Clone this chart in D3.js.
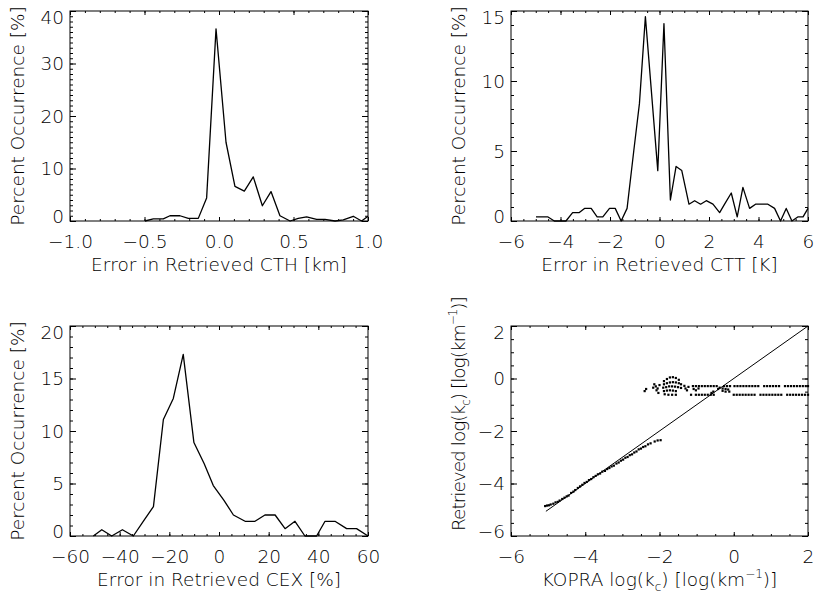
<!DOCTYPE html>
<html>
<head>
<meta charset="utf-8">
<script src="https://cdn.jsdelivr.net/npm/d3@7"></script>
<style>
  body { margin: 0; background: #fff; }
  text { font-family: "DejaVu Sans", sans-serif; font-size: 18.5px; font-weight: 200; fill: #000; }
</style>
</head>
<body>
<script>
// ---- data ----
// CTH error histogram [km] vs percent
const cthErr = [-0.497, -0.441, -0.374, -0.329, -0.262, -0.206, -0.139, -0.083, -0.020, 0.047, 0.107, 0.170, 0.230,
                0.291, 0.349, 0.409, 0.477, 0.532, 0.588, 0.655, 0.711, 0.779, 0.834, 0.901, 0.957, 1.0];
const cthPct = [0, 0.4, 0.4, 1.0, 1.0, 0.5, 0.5, 4.4, 36.6, 15.0, 6.6, 5.7, 8.4,
                2.9, 5.6, 1.0, 0, 0.5, 0.8, 0.3, 0.3, 0, 0.2, 0.9, 0, 0.9];

// CTT error histogram [K]
const cttErr = [-4.99, -4.52, -4.25, -3.78, -3.51, -3.24, -3.03, -2.76, -2.52, -2.29, -2.02, -1.79, -1.55, -1.31,
                -1.04, -0.81, -0.57, -0.07, 0.18, 0.44, 0.67, 0.90, 1.19, 1.42, 1.66, 1.89, 2.16, 2.43, 2.63,
                2.90, 3.14, 3.37, 3.64, 3.88, 4.38, 4.65, 4.89, 5.12, 5.35, 5.60, 5.80, 6.0];
const cttPct = [0.3, 0.3, 0, 0, 0.6, 0.6, 0.9, 0.9, 0.3, 0.3, 0.9, 0.9, 0, 0.9,
                5.0, 8.4, 14.6, 3.6, 14.1, 1.5, 3.9, 3.6, 1.2, 1.45, 1.2, 1.45, 1.2, 0.6, 1.2,
                2.0, 0.3, 2.4, 0.9, 1.2, 1.2, 0.9, 0, 0.9, 0, 0.3, 0.3, 0.9];

// CEX error histogram [%]
const cexErr = [-50.6, -47.2, -43.2, -38.9, -34.5, -30.5, -26.4, -22.4, -18.4, -14.4, -10.1, -6.0, -2.3, 2.0,
                5.8, 10.5, 14.5, 18.5, 22.6, 26.6, 30.6, 34.6, 39.3, 42.7, 46.7, 51.4, 55.4, 60];
const cexPct = [0, 0.6, 0, 0.6, 0, 1.4, 2.8, 11.1, 13.1, 17.3, 8.9, 6.9, 4.8, 3.4,
                2.0, 1.4, 1.4, 2.0, 2.0, 0.7, 1.4, 0, 0, 1.4, 1.4, 0.7, 0.7, 0];

// KOPRA vs retrieved log(kc)
const oneToOne = [-5.06, 2.0];
const diagonalPts = [[-5.08, -4.86], [-5.03, -4.84], [-4.98, -4.83], [-4.93, -4.80], [-4.86, -4.77], [-4.80, -4.72],
  [-4.74, -4.70], [-4.69, -4.65], [-4.62, -4.59], [-4.56, -4.54], [-4.50, -4.49], [-4.45, -4.46], [-4.38, -4.36],
  [-4.32, -4.31], [-4.27, -4.25], [-4.20, -4.17], [-4.14, -4.11], [-4.08, -4.05], [-4.02, -3.98], [-3.96, -3.94],
  [-3.90, -3.87], [-3.84, -3.83], [-3.78, -3.76], [-3.72, -3.71], [-3.66, -3.65], [-3.60, -3.62], [-3.54, -3.55],
  [-3.47, -3.52], [-3.41, -3.45], [-3.35, -3.41], [-3.29, -3.35], [-3.23, -3.32], [-3.16, -3.24], [-3.10, -3.20],
  [-3.04, -3.13], [-2.98, -3.09], [-2.92, -3.02], [-2.86, -2.99], [-2.80, -2.92], [-2.74, -2.89], [-2.68, -2.82],
  [-2.62, -2.78], [-2.56, -2.70], [-2.50, -2.67], [-2.44, -2.61], [-2.38, -2.58], [-2.31, -2.51], [-2.24, -2.47],
  [-2.13, -2.40], [-2.05, -2.36], [-1.97, -2.35]];
const blobPts = [[-2.40, -0.48], [-2.36, -0.40], [-2.17, -0.35], [-2.14, -0.22], [-2.10, -0.30], [-2.08, -0.45],
  [-2.05, -0.38], [-2.03, -0.55], [-2.00, -0.25],
  [-1.88, -0.10], [-1.80, -0.02], [-1.72, 0.04], [-1.64, 0.05], [-1.56, 0.02], [-1.48, -0.05],
  [-1.88, -0.22], [-1.80, -0.18], [-1.72, -0.15], [-1.64, -0.14], [-1.56, -0.15], [-1.48, -0.18], [-1.42, -0.22],
  [-1.90, -0.35], [-1.82, -0.33], [-1.74, -0.30], [-1.66, -0.30], [-1.58, -0.31], [-1.50, -0.33], [-1.42, -0.36],
  [-1.88, -0.48], [-1.80, -0.46], [-1.72, -0.45], [-1.64, -0.46], [-1.56, -0.48],
  [-1.86, -0.60], [-1.76, -0.62], [-1.66, -0.62], [-1.56, -0.62],
  [-1.33, -0.28], [-1.30, -0.38], [-1.26, -0.45], [-1.22, -0.32],
  [-1.08, -0.40], [-1.02, -0.45], [-0.95, -0.38], [-0.60, -0.55], [-0.55, -0.50],
  [-0.42, -0.40], [-0.38, -0.35], [-0.30, -0.38], [-0.30, -0.47], [-0.22, -0.40], [-0.22, -0.50],
  [-0.15, -0.42], [-0.12, -0.50]];
const rowHighY = -0.29;
const rowHighX = [-1.10, -1.02, -0.94, -0.86, -0.78, -0.70, -0.62, -0.54, -0.46, -0.26, -0.18, -0.10,
  0.02, 0.10, 0.18, 0.26, 0.34, 0.42, 0.50, 0.58, 0.66, 0.82, 0.90, 0.98, 1.06, 1.14, 1.22,
  1.38, 1.46, 1.54, 1.62, 1.70, 1.78, 1.86, 1.94, 2.00];
const rowLowY = -0.62;
const rowLowX = [-1.15, -1.02, -0.94, -0.86, -0.78, -0.70, -0.62, -0.54, 0.00, 0.08, 0.16, 0.24, 0.32, 0.40,
  0.48, 0.56, 0.72, 0.80, 0.88, 0.96, 1.04, 1.12, 1.20, 1.28, 1.44, 1.52, 1.60, 1.68, 1.76, 1.84, 1.92, 2.00];

// tick labels
const cthTicks = [-1.0, -0.5, 0.0, 0.5, 1.0];
const cttTicks = [-6, -4, -2, 0, 2, 4, 6];
const cexTicks = [-60, -40, -20, 0, 20, 40, 60];
const logTicks = [-6, -4, -2, 0, 2];
const pct40Ticks = [0, 10, 20, 30, 40];
const pct15Ticks = [0, 5, 10, 15];
const pct20Ticks = [0, 5, 10, 15, 20];

const minus = s => s.replace("-", "\u2212");
const fmt1 = d => minus(d3.format(".1f")(d));
const fmt0 = d => minus(d3.format("d")(d));

const svg = d3.select("body").append("svg")
    .attr("width", 817)
    .attr("height", 599);

// draws an IDL-style box with inward ticks on all four sides
function panel(o) {
    const [left, top, right, bottom] = o.box;
    const w = right - left, h = bottom - top;
    const g = svg.append("g").attr("transform", `translate(${left},${top})`);
    const x = d3.scaleLinear().domain(o.xDomain).range([0, w]);
    const y = d3.scaleLinear().domain(o.yDomain).range([h, 0]);

    const axes = [
        [d3.axisBottom(x), `translate(0,${h})`, o.xTicks, d3.range(o.xDomain[0], o.xDomain[1] + 1e-9, o.xMinor), 4, 2, o.xFmt],
        [d3.axisTop(x), null, o.xTicks, d3.range(o.xDomain[0], o.xDomain[1] + 1e-9, o.xMinor), 4, 2, null],
        [d3.axisLeft(y), null, o.yTicks, d3.range(o.yDomain[0], o.yDomain[1] + 1e-9, o.yMinor), 6, 3, o.yFmt],
        [d3.axisRight(y), `translate(${w},0)`, o.yTicks, d3.range(o.yDomain[0], o.yDomain[1] + 1e-9, o.yMinor), 6, 3, null]
    ];
    axes.forEach(([ax, tr, major, minor, big, small, f], i) => {
        const a = g.append("g").attr("transform", tr);
        a.call(ax.tickValues(minor).tickSize(-small).tickSizeOuter(0).tickFormat(""));
        a.append("g").call(ax.tickValues(major).tickSize(-big).tickSizeOuter(0).tickPadding(6).tickFormat(f || ""));
        a.selectAll(".domain").remove();
        a.selectAll("line").attr("stroke", "#000").attr("stroke-width", 1);
        a.selectAll("text").attr("fill", "#000").attr("font-size", null).attr("font-family", null);
        if (i === 0) a.selectAll("text").attr("y", 27).attr("dy", null);
        if (i === 2) {
            const t = a.selectAll("text");
            t.attr("x", -6).attr("dy", "0.35em");
            t.filter(d => d === o.yDomain[1]).attr("dy", "0.7em");
            t.filter(d => d === o.yDomain[0]).attr("dy", "0.1em");
        }
    });
    g.append("rect").attr("width", w).attr("height", h)
        .attr("fill", "none").attr("stroke", "#000").attr("stroke-width", 1);

    const xt = g.append("text").attr("x", w / 2).attr("y", h + 50).attr("text-anchor", "middle");
    o.xTitle(xt);
    // y title: centred on the box unless a start point is given
    const yt = g.append("text")
        .attr("transform", `translate(-46,${o.yTitleStart !== undefined ? o.yTitleStart - top : h / 2}) rotate(-90)`)
        .attr("text-anchor", o.yTitleStart !== undefined ? "start" : "middle");
    if (o.yTitleSpacing) yt.attr("letter-spacing", o.yTitleSpacing);
    o.yTitle(yt);
    return { g, x, y };
}

function plain(s) { return t => t.text(s); }

function logLabel(prefix) {
    return t => {
        t.append("tspan").text(prefix + "log(k");
        t.append("tspan").attr("font-size", "12px").attr("dy", "5").text("c");
        t.append("tspan").attr("dy", "-5").text(")  [log(km");
        t.append("tspan").attr("font-size", "12px").attr("dy", "-8").text("\u22121");
        t.append("tspan").attr("dy", "8").text(")]");
    };
}

function histLine(p, xs, ys) {
    p.g.append("path")
        .datum(xs.map((d, i) => [d, ys[i]]))
        .attr("fill", "none")
        .attr("stroke", "#000")
        .attr("stroke-width", 1.3)
        .attr("stroke-linejoin", "round")
        .attr("d", d3.line().x(d => p.x(d[0])).y(d => p.y(d[1])));
}

const yPct = plain("Percent Occurrence [%]");

const p1 = panel({
    box: [70, 11, 368, 221], xDomain: [-1, 1], yDomain: [0, 40],
    xTicks: cthTicks, xMinor: 0.1, yTicks: pct40Ticks, yMinor: 1,
    xFmt: fmt1, yFmt: fmt0, xTitle: plain("Error in Retrieved CTH [km]"), yTitle: yPct
});
histLine(p1, cthErr, cthPct);

const p2 = panel({
    box: [511, 11, 808, 221], xDomain: [-6, 6], yDomain: [0, 15],
    xTicks: cttTicks, xMinor: 0.5, yTicks: pct15Ticks, yMinor: 1,
    xFmt: fmt0, yFmt: fmt0, xTitle: plain("Error in Retrieved CTT [K]"), yTitle: yPct
});
histLine(p2, cttErr, cttPct);

const p3 = panel({
    box: [70, 326, 368, 536], xDomain: [-60, 60], yDomain: [0, 20],
    xTicks: cexTicks, xMinor: 5, yTicks: pct20Ticks, yMinor: 1,
    xFmt: fmt0, yFmt: fmt0, xTitle: plain("Error in Retrieved CEX [%]"), yTitle: yPct
});
histLine(p3, cexErr, cexPct);

const p4 = panel({
    box: [511, 326, 808, 536], xDomain: [-6, 2], yDomain: [-6, 2],
    xTicks: logTicks, xMinor: 0.5, yTicks: logTicks, yMinor: 0.5,
    xFmt: fmt0, yFmt: fmt0, xTitle: logLabel("KOPRA "), yTitle: logLabel("Retrieved "),
    yTitleStart: 531, yTitleSpacing: "-1px"
});
p4.g.append("line")
    .attr("x1", p4.x(oneToOne[0])).attr("y1", p4.y(oneToOne[0]))
    .attr("x2", p4.x(oneToOne[1])).attr("y2", p4.y(oneToOne[1]))
    .attr("stroke", "#000").attr("stroke-width", 1);

const pts = diagonalPts.concat(blobPts,
    rowHighX.map(v => [v, rowHighY]),
    rowLowX.map(v => [v, rowLowY]));
p4.g.append("g").selectAll("rect")
    .data(pts)
    .enter().append("rect")
    .attr("x", d => p4.x(d[0]) - 1.1)
    .attr("y", d => p4.y(d[1]) - 1.1)
    .attr("width", 2.2)
    .attr("height", 2.2)
    .attr("fill", "#000");
</script>
</body>
</html>
